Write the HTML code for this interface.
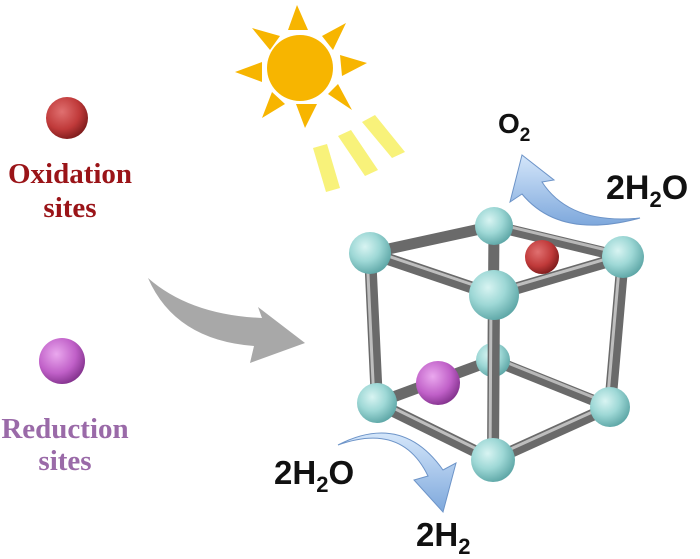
<!DOCTYPE html>
<html><head><meta charset="utf-8"><style>
html,body{margin:0;padding:0;background:#fff;}
svg{display:block}
</style></head><body>
<svg width="700" height="559" viewBox="0 0 700 559" xmlns="http://www.w3.org/2000/svg">
<defs>
<radialGradient id="red" cx="0.38" cy="0.35" r="0.7"><stop offset="0" stop-color="#e07070"/><stop offset="0.6" stop-color="#c03a3a"/><stop offset="1" stop-color="#7a1a1a"/></radialGradient>
<radialGradient id="pur" cx="0.38" cy="0.35" r="0.7"><stop offset="0" stop-color="#eaa8ee"/><stop offset="0.6" stop-color="#c060c8"/><stop offset="1" stop-color="#80308a"/></radialGradient>
<radialGradient id="cy" cx="0.38" cy="0.35" r="0.7"><stop offset="0" stop-color="#d8f4f2"/><stop offset="0.5" stop-color="#9ed8d6"/><stop offset="1" stop-color="#5aa4a4"/></radialGradient>
<linearGradient id="blu" x1="0" y1="0" x2="0" y2="1"><stop offset="0" stop-color="#d4e6fa"/><stop offset="1" stop-color="#7ea8dc"/></linearGradient>
</defs>
<!-- sun -->
<g fill="#f7b500">
<circle cx="300" cy="68" r="33"/>
<polygon points="297,5 288,30 308,30"/>
<polygon points="235,72 262,62 262,82"/>
<polygon points="367,63 340,55 342,76"/>
<polygon points="305,128 296,104 317,104"/>
<polygon points="252,28 270,50 280,36"/>
<polygon points="346,23 322,36 333,50"/>
<polygon points="262,118 272,92 285,104"/>
<polygon points="352,110 328,94 338,84"/>
</g>
<g fill="#f8f27a">
<polygon points="313,148 327,144 340,188 326,192"/>
<polygon points="338,136 351,130 378,170 365,176"/>
<polygon points="362,122 375,115 405,152 392,158"/>
</g>
<!-- left legend -->
<circle cx="67" cy="118" r="21" fill="url(#red)"/>
<text x="70" y="183" text-anchor="middle" font-family="Liberation Serif" font-weight="bold" font-size="29" fill="#9a1418">Oxidation</text>
<text x="70" y="217" text-anchor="middle" font-family="Liberation Serif" font-weight="bold" font-size="29" fill="#9a1418">sites</text>
<circle cx="62" cy="361" r="23" fill="url(#pur)"/>
<text x="65" y="438" text-anchor="middle" font-family="Liberation Serif" font-weight="bold" font-size="29" fill="#9a6aa8">Reduction</text>
<text x="65" y="470" text-anchor="middle" font-family="Liberation Serif" font-weight="bold" font-size="29" fill="#9a6aa8">sites</text>
<!-- gray arrow -->
<path d="M148,278 Q190,315 262,318 L258,307 L305,343 L250,363 L254,346 Q175,340 148,278 Z" fill="#a8a8a8"/>
<!-- back rods -->
<g stroke="#6a6a6a" stroke-width="11" stroke-linecap="round">
<line x1="494" y1="226" x2="493" y2="360"/>
<line x1="493" y1="360" x2="377" y2="403"/>
<line x1="493" y1="360" x2="610" y2="407"/>
<line x1="370" y1="253" x2="494" y2="226"/>
<line x1="494" y1="226" x2="623" y2="257"/>
</g>
<g stroke="#b8b8b8" stroke-width="3" stroke-linecap="round">
<line x1="493" y1="357" x2="610" y2="404"/>
<line x1="494" y1="223" x2="623" y2="254"/>
</g>
<circle cx="493" cy="360" r="17" fill="url(#cy)"/>
<!-- front rods -->
<g stroke="#6a6a6a" stroke-width="12" stroke-linecap="round">
<line x1="370" y1="253" x2="494" y2="295"/>
<line x1="623" y1="257" x2="494" y2="295"/>
<line x1="370" y1="253" x2="377" y2="403"/>
<line x1="623" y1="257" x2="610" y2="407"/>
<line x1="494" y1="295" x2="493" y2="460"/>
<line x1="377" y1="403" x2="493" y2="460"/>
<line x1="610" y1="407" x2="493" y2="460"/>
</g>
<g stroke="#c8c8c8" stroke-width="3" stroke-linecap="round" opacity="0.9">
<line x1="370" y1="250" x2="494" y2="292"/>
<line x1="623" y1="254" x2="494" y2="292"/>
<line x1="377" y1="400" x2="493" y2="457"/>
<line x1="610" y1="404" x2="493" y2="457"/>
<line x1="367" y1="253" x2="374" y2="403"/>
<line x1="491" y1="295" x2="490" y2="460"/>
<line x1="620" y1="257" x2="607" y2="407"/>
</g>
<circle cx="542" cy="257" r="17" fill="url(#red)"/>
<circle cx="438" cy="383" r="22" fill="url(#pur)"/>
<circle cx="494" cy="226" r="19" fill="url(#cy)"/>
<circle cx="370" cy="253" r="21" fill="url(#cy)"/>
<circle cx="623" cy="257" r="21" fill="url(#cy)"/>
<circle cx="494" cy="295" r="25" fill="url(#cy)"/>
<circle cx="377" cy="403" r="20" fill="url(#cy)"/>
<circle cx="610" cy="407" r="20" fill="url(#cy)"/>
<circle cx="493" cy="460" r="22" fill="url(#cy)"/>
<!-- blue arrows -->
<path d="M640,218 Q570,225 542,182 L554,180 L522,155 L510,202 L522,194 Q560,240 640,218 Z" fill="url(#blu)" stroke="#6d94c8" stroke-width="1"/>
<path d="M338,445 Q402,422 428,476 L414,480 L443,512 L456,463 L443,470 Q402,412 338,445 Z" fill="url(#blu)" stroke="#6d94c8" stroke-width="1"/>
<!-- labels -->
<g font-family="Liberation Sans" font-weight="bold" fill="#111">
<text x="498" y="133" font-size="28">O<tspan font-size="19" dy="8">2</tspan></text>
<text x="606" y="199" font-size="34">2H<tspan font-size="22" dy="8">2</tspan><tspan dy="-8">O</tspan></text>
<text x="274" y="484" font-size="33">2H<tspan font-size="22" dy="8">2</tspan><tspan dy="-8">O</tspan></text>
<text x="416" y="546" font-size="33">2H<tspan font-size="22" dy="8">2</tspan></text>
</g>
</svg>
</body></html>
